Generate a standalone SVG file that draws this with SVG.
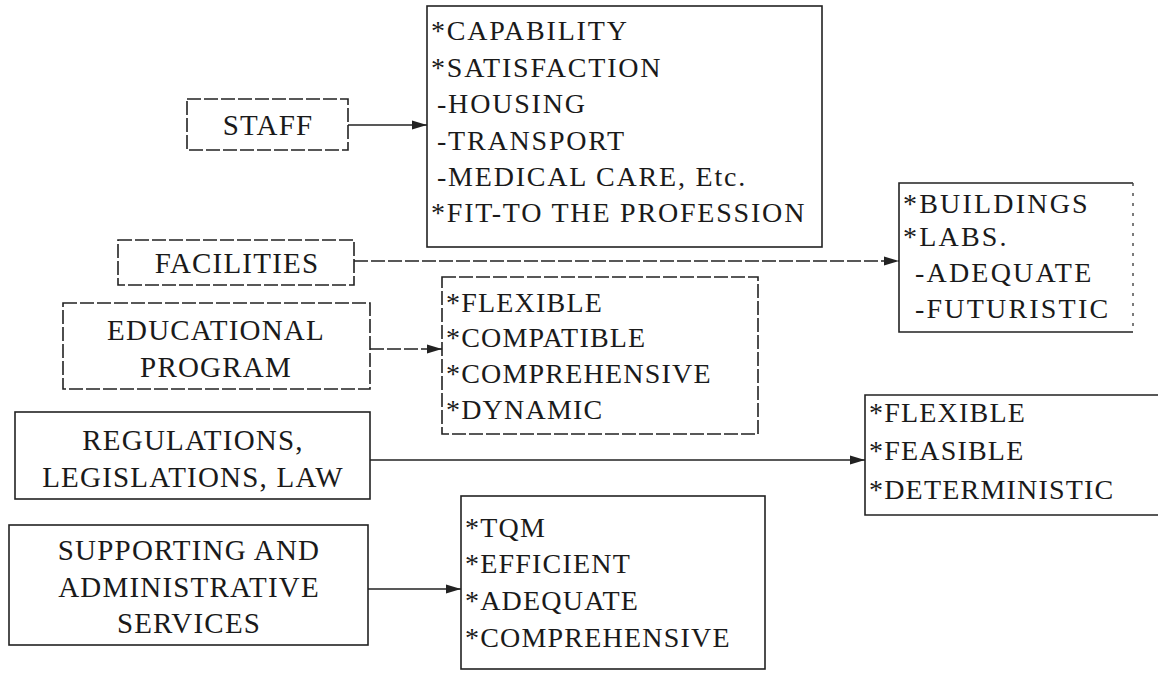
<svg xmlns="http://www.w3.org/2000/svg" width="1158" height="673" viewBox="0 0 1158 673">
  <style>
    .box { fill: none; stroke: #222; stroke-width: 1.6; }
    .dbox { fill: none; stroke: #222; stroke-width: 1.6; stroke-dasharray: 14 3; }
    .lbl { font-family: "Liberation Serif", "Times New Roman", serif; font-size: 29px; letter-spacing: 1.2px; fill: #1a1a1a; text-anchor: middle; }
    .item { font-family: "Liberation Serif", "Times New Roman", serif; font-size: 28px; letter-spacing: 1.2px; fill: #1a1a1a; }
    .wide { letter-spacing: 1.8px; }
    .wider { letter-spacing: 2.2px; }
    .conn { fill: none; stroke: #222; stroke-width: 1.6; }
  </style>
  <defs>
    <marker id="arrow" markerUnits="userSpaceOnUse" markerWidth="15" markerHeight="10" refX="15" refY="5" orient="auto">
      <path d="M0,0.5 L15,5 L0,9.5 z" fill="#222"/>
    </marker>
  </defs>
  <rect x="0" y="0" width="1158" height="673" fill="#ffffff"/>

  <g id="staff">
    <rect class="dbox" x="187" y="99" width="161" height="51"/>
    <text class="lbl" x="268" y="135">STAFF</text>
  </g>

  <g id="staff-attributes">
    <rect class="box" x="427" y="6" width="395" height="241"/>
    <text class="item wide" x="431" y="40">*CAPABILITY</text>
    <text class="item wide" x="431" y="77">*SATISFACTION</text>
    <text class="item wide" x="437" y="113">-HOUSING</text>
    <text class="item wide" x="437" y="150">-TRANSPORT</text>
    <text class="item wide" x="437" y="186">-MEDICAL CARE, Etc.</text>
    <text class="item wide" x="431" y="222">*FIT-TO THE PROFESSION</text>
  </g>

  <g id="facilities">
    <rect class="dbox" x="118" y="240" width="236" height="45"/>
    <text class="lbl" x="237" y="273">FACILITIES</text>
  </g>

  <g id="facilities-attributes">
    <path class="box" d="M1133,183 H899 V332 H1133"/>
    <line x1="1133" y1="183" x2="1133" y2="332" stroke="#444" stroke-width="1.4" stroke-dasharray="3 7"/>
    <text class="item wider" x="903" y="213">*BUILDINGS</text>
    <text class="item wider" x="903" y="246">*LABS.</text>
    <text class="item wider" x="915" y="282">-ADEQUATE</text>
    <text class="item wider" x="915" y="318">-FUTURISTIC</text>
  </g>

  <g id="educational-program">
    <rect class="dbox" x="63" y="303" width="307" height="86"/>
    <text class="lbl" x="216" y="340">EDUCATIONAL</text>
    <text class="lbl" x="216" y="377">PROGRAM</text>
  </g>

  <g id="educational-attributes">
    <rect class="dbox" x="442" y="277" width="316" height="157"/>
    <text class="item" x="446" y="312">*FLEXIBLE</text>
    <text class="item" x="446" y="347">*COMPATIBLE</text>
    <text class="item" x="446" y="383">*COMPREHENSIVE</text>
    <text class="item" x="446" y="419">*DYNAMIC</text>
  </g>

  <g id="regulations">
    <rect class="box" x="15" y="412" width="355" height="87"/>
    <text class="lbl" x="193" y="450">REGULATIONS,</text>
    <text class="lbl" x="193" y="487">LEGISLATIONS, LAW</text>
  </g>

  <g id="regulations-attributes">
    <path class="box" d="M1158,395 H865 V515 H1158"/>
    <text class="item" x="869" y="422">*FLEXIBLE</text>
    <text class="item" x="869" y="460">*FEASIBLE</text>
    <text class="item" x="869" y="499">*DETERMINISTIC</text>
  </g>

  <g id="supporting-services">
    <rect class="box" x="9" y="525" width="359" height="120"/>
    <text class="lbl" x="189" y="560">SUPPORTING AND</text>
    <text class="lbl" x="189" y="597">ADMINISTRATIVE</text>
    <text class="lbl" x="189" y="633">SERVICES</text>
  </g>

  <g id="supporting-attributes">
    <rect class="box" x="461" y="496" width="304" height="173"/>
    <text class="item" x="465" y="537">*TQM</text>
    <text class="item" x="465" y="573">*EFFICIENT</text>
    <text class="item" x="465" y="610">*ADEQUATE</text>
    <text class="item" x="465" y="647">*COMPREHENSIVE</text>
  </g>

  <g id="connectors">
    <line class="conn" x1="348" y1="125" x2="427" y2="125" marker-end="url(#arrow)"/>
    <line class="conn" x1="354" y1="261" x2="899" y2="261" stroke-dasharray="14 3" marker-end="url(#arrow)"/>
    <line class="conn" x1="370" y1="349" x2="442" y2="349" stroke-dasharray="14 3" marker-end="url(#arrow)"/>
    <line class="conn" x1="370" y1="460" x2="865" y2="460" marker-end="url(#arrow)"/>
    <line class="conn" x1="368" y1="589" x2="461" y2="589" marker-end="url(#arrow)"/>
  </g>
</svg>
